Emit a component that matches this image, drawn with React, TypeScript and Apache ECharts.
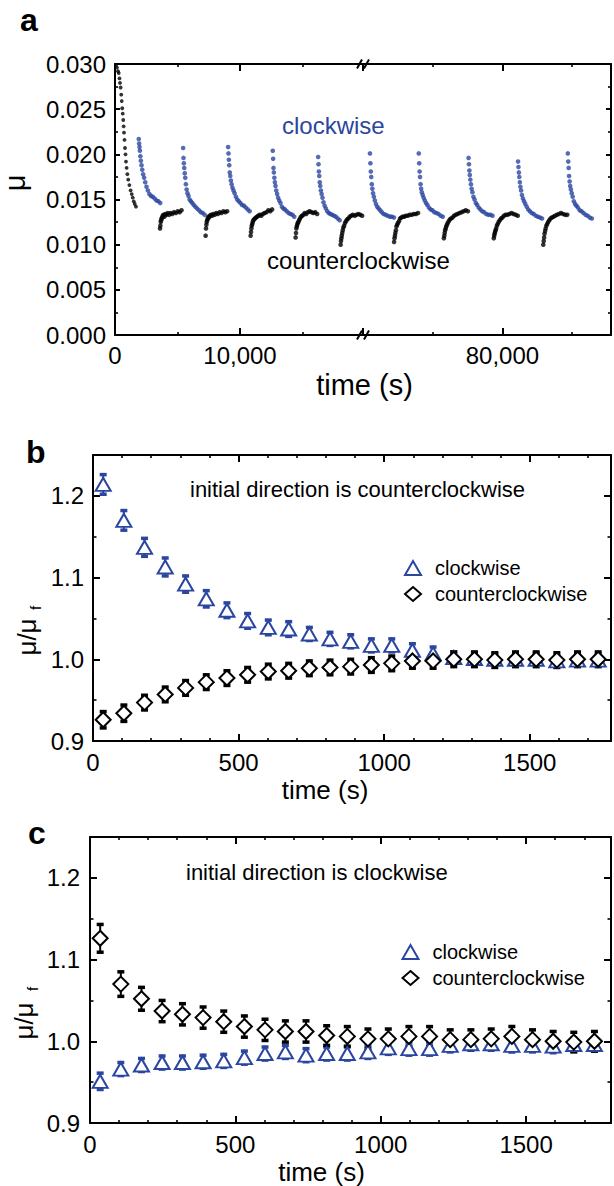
import React, { useEffect, useRef } from "react";
import * as echarts from "echarts";

const BLUE = "#2a46a0";
const BLACK = "#000000";
const FONT = "'Liberation Sans', Arial, Helvetica, sans-serif";

// ---------- panel a : friction coefficient vs time ----------
// time offsets (s) inside each half-cycle
const A_OFFSETS = [0, 30, 60, 90, 130, 170, 220, 280, 350, 430, 520, 620, 730, 850, 980, 1120, 1270, 1420, 1570, 1720];

// first (counterclockwise) run-in segment, [time, mu]
const A_CCW_INITIAL = [
  [90, 0.0299], [160, 0.0296], [240, 0.0292], [300, 0.029], [360, 0.0284], [400, 0.0279], [450, 0.0274],
  [500, 0.0266], [540, 0.0259], [580, 0.0251], [620, 0.0245], [660, 0.0238], [690, 0.0231], [720, 0.0224],
  [760, 0.0216], [800, 0.0207], [840, 0.02], [880, 0.0192], [930, 0.0185], [990, 0.0178], [1060, 0.0172],
  [1150, 0.0166], [1250, 0.016], [1340, 0.0156], [1420, 0.0152], [1500, 0.0148], [1580, 0.0145], [1680, 0.0142],
];

// clockwise segments, left part of broken axis
const A_CW_LEFT_STARTS = [1900, 5450, 9050, 12620, 16250];
const A_CW_LEFT = [
  [0.0217, 0.0212, 0.0208, 0.0204, 0.0198, 0.0193, 0.0188, 0.0183, 0.0178, 0.0174, 0.0169, 0.0164, 0.016, 0.0156, 0.0154, 0.0153, 0.0151, 0.0149, 0.0148, 0.0146],
  [0.0207, 0.0196, 0.019, 0.0185, 0.0179, 0.0174, 0.0167, 0.0161, 0.0157, 0.0154, 0.015, 0.0148, 0.0146, 0.0144, 0.0142, 0.014, 0.0138, 0.0136, 0.0135, 0.0133],
  [0.0208, 0.0201, 0.0194, 0.0188, 0.018, 0.0176, 0.0171, 0.0167, 0.0163, 0.016, 0.0157, 0.0153, 0.015, 0.0148, 0.0146, 0.0144, 0.0143, 0.0141, 0.0139, 0.0137],
  [0.0204, 0.0195, 0.0185, 0.018, 0.0174, 0.0169, 0.0165, 0.016, 0.0156, 0.0152, 0.0149, 0.0146, 0.0142, 0.014, 0.0139, 0.0137, 0.0135, 0.0134, 0.0133, 0.0131],
  [0.0197, 0.0189, 0.0181, 0.0176, 0.0169, 0.0165, 0.016, 0.0156, 0.0152, 0.0147, 0.0143, 0.014, 0.0137, 0.0135, 0.0134, 0.0133, 0.0132, 0.0131, 0.0129, 0.0127],
];
// clockwise segments, right part of broken axis
const A_CW_RIGHT_STARTS = [70500, 74000, 77570, 81120, 84690];
const A_CW_RIGHT = [
  [0.0201, 0.019, 0.0181, 0.0175, 0.0167, 0.0162, 0.0157, 0.0153, 0.0149, 0.0145, 0.0142, 0.014, 0.0138, 0.0136, 0.0134, 0.0133, 0.0132, 0.0131, 0.0131, 0.013],
  [0.0201, 0.019, 0.0181, 0.0175, 0.0167, 0.0162, 0.0158, 0.0155, 0.0152, 0.0149, 0.0146, 0.0144, 0.0141, 0.0139, 0.0138, 0.0136, 0.0135, 0.0134, 0.0132, 0.0131],
  [0.0196, 0.0189, 0.0182, 0.0177, 0.0172, 0.0167, 0.0162, 0.0158, 0.0153, 0.015, 0.0146, 0.0144, 0.0141, 0.0139, 0.0137, 0.0136, 0.0134, 0.0133, 0.0133, 0.0132],
  [0.0192, 0.0186, 0.018, 0.0175, 0.0169, 0.0164, 0.016, 0.0155, 0.0151, 0.0148, 0.0145, 0.0142, 0.0139, 0.0137, 0.0135, 0.0134, 0.0132, 0.0131, 0.013, 0.0129],
  [0.0201, 0.0192, 0.0185, 0.0176, 0.017, 0.0165, 0.0161, 0.0157, 0.0153, 0.0148, 0.0145, 0.0143, 0.0141, 0.0138, 0.0137, 0.0135, 0.0133, 0.0132, 0.013, 0.0129],
];
// counterclockwise segments
const A_CCW_LEFT_STARTS = [3600, 7250, 10850, 14450, 18050];
const A_CCW_LEFT = [
  [0.0118, 0.0121, 0.0125, 0.0127, 0.0129, 0.013, 0.0132, 0.0133, 0.0131, 0.0134, 0.0133, 0.0135, 0.0133, 0.0135, 0.0134, 0.0136, 0.0135, 0.0137, 0.0136, 0.0138],
  [0.011, 0.0118, 0.0122, 0.0125, 0.0127, 0.0129, 0.0131, 0.013, 0.0132, 0.0133, 0.0132, 0.0134, 0.0133, 0.0135, 0.0134, 0.0136, 0.0135, 0.0137, 0.0136, 0.0137],
  [0.011, 0.0114, 0.0118, 0.0121, 0.0123, 0.0125, 0.0127, 0.0128, 0.0129, 0.013, 0.0131, 0.0132, 0.0133, 0.0132, 0.0134, 0.0135, 0.0136, 0.0138, 0.0137, 0.0139],
  [0.0108, 0.0113, 0.0118, 0.012, 0.0122, 0.0124, 0.0125, 0.0127, 0.0129, 0.0131, 0.0132, 0.0133, 0.0135, 0.0134, 0.0136, 0.0137, 0.0136, 0.0135, 0.0136, 0.0134],
  [0.01, 0.0104, 0.0107, 0.011, 0.0113, 0.0116, 0.0119, 0.0121, 0.0124, 0.0126, 0.0128, 0.0129, 0.0131, 0.0132, 0.0133, 0.0132, 0.0133, 0.0134, 0.0133, 0.0132],
];
const A_CCW_RIGHT_STARTS = [72230, 75800, 79380, 82930];
const A_CCW_RIGHT = [
  [0.0103, 0.0107, 0.011, 0.0113, 0.0116, 0.012, 0.0122, 0.0124, 0.0126, 0.0129, 0.013, 0.0131, 0.0131, 0.0132, 0.0132, 0.0133, 0.0133, 0.0134, 0.0134, 0.0135],
  [0.0107, 0.011, 0.0113, 0.0116, 0.0118, 0.012, 0.0122, 0.0124, 0.0126, 0.0128, 0.0129, 0.013, 0.0132, 0.0133, 0.0134, 0.0135, 0.0136, 0.0137, 0.0138, 0.0137],
  [0.0107, 0.011, 0.0112, 0.0114, 0.0116, 0.0118, 0.0121, 0.0123, 0.0125, 0.0127, 0.0129, 0.013, 0.0132, 0.0133, 0.0133, 0.0134, 0.0135, 0.0134, 0.0133, 0.0132],
  [0.01, 0.0104, 0.0108, 0.0112, 0.0115, 0.0118, 0.0121, 0.0123, 0.0125, 0.0127, 0.0129, 0.013, 0.0131, 0.0132, 0.0133, 0.0134, 0.0135, 0.0134, 0.0133, 0.0133],
];
const A_LEFT_LABELS = [0, 10000];
const A_RIGHT_LABELS = [80000];

// ---------- panels b and c : normalised friction ----------
const TIMES = [35, 106, 177, 248, 318, 389, 460, 531, 602, 672, 743, 814, 885, 956, 1026, 1097, 1168, 1239, 1310, 1380, 1451, 1522, 1593, 1664, 1735];

const B_CW = [1.214, 1.17, 1.137, 1.113, 1.092, 1.074, 1.06, 1.047, 1.039, 1.037, 1.031, 1.025, 1.022, 1.017, 1.017, 1.011, 1.007, 1.002, 1.001, 1.0, 1.0, 1.0, 0.998, 0.999, 0.999];
const B_CW_ERR = [0.012, 0.012, 0.011, 0.011, 0.01, 0.01, 0.009, 0.009, 0.009, 0.009, 0.008, 0.008, 0.008, 0.008, 0.008, 0.008, 0.008, 0.007, 0.007, 0.007, 0.007, 0.007, 0.007, 0.007, 0.007];
const B_CCW = [0.926, 0.934, 0.947, 0.957, 0.965, 0.972, 0.977, 0.981, 0.985, 0.986, 0.989, 0.99, 0.991, 0.993, 0.995, 0.998, 0.998, 1.0, 1.0, 0.999, 1.0, 1.0, 0.999, 1.0, 1.0];
const B_CCW_ERR = [0.01, 0.01, 0.009, 0.009, 0.009, 0.009, 0.009, 0.009, 0.009, 0.009, 0.009, 0.009, 0.009, 0.009, 0.009, 0.009, 0.009, 0.009, 0.009, 0.009, 0.009, 0.009, 0.009, 0.009, 0.009];

const C_CW = [0.951, 0.966, 0.971, 0.974, 0.974, 0.975, 0.976, 0.98, 0.985, 0.987, 0.983, 0.985, 0.985, 0.987, 0.992, 0.991, 0.991, 0.995, 0.997, 0.997, 0.995, 0.995, 0.994, 0.996, 0.996];
const C_CW_ERR = [0.01, 0.008, 0.008, 0.008, 0.008, 0.008, 0.008, 0.008, 0.008, 0.008, 0.008, 0.008, 0.008, 0.008, 0.008, 0.008, 0.008, 0.008, 0.008, 0.008, 0.008, 0.008, 0.008, 0.008, 0.008];
const C_CCW = [1.126, 1.07, 1.052, 1.037, 1.033, 1.029, 1.024, 1.018, 1.014, 1.012, 1.012, 1.007, 1.006, 1.003, 1.003, 1.006, 1.006, 1.002, 1.002, 1.003, 1.006, 1.002, 1.0, 0.999, 1.0];
const C_CCW_ERR = [0.017, 0.015, 0.014, 0.013, 0.013, 0.013, 0.013, 0.013, 0.013, 0.013, 0.013, 0.012, 0.012, 0.012, 0.012, 0.012, 0.012, 0.012, 0.012, 0.012, 0.012, 0.012, 0.012, 0.012, 0.012];

const LEGEND_NAMES = ["clockwise", "counterclockwise"];

// ---------- layout ----------
const GA = { left0: 115, brk: 363, right: 612, top: 64, bottom: 335 };
const GB = { left: 93, top: 455, width: 519, height: 286 };
const GC = { left: 90, top: 837, width: 522, height: 286 };

function segPoints(starts: number[], segs: number[][]) {
  const pts: number[][] = [];
  starts.forEach((s, k) => segs[k].forEach((v, i) => pts.push([s + A_OFFSETS[i], v])));
  return pts;
}

const tickFont = { fontSize: 24, fontFamily: FONT, color: "#000" };

function mkX(grid: number, position: string, min: number, max: number, interval: number, len: number, major: boolean, fmt?: (v: number) => string, margin = 8) {
  return {
    type: "value", gridIndex: grid, position, min, max, interval,
    axisLine: { show: major, onZero: false, lineStyle: { color: "#000", width: 2 } },
    axisTick: { show: true, inside: true, length: len, lineStyle: { color: "#000", width: major ? 2 : 1.6 } },
    axisLabel: fmt ? { show: true, margin, ...tickFont, formatter: fmt, showMinLabel: true, showMaxLabel: true } : { show: false },
    splitLine: { show: false },
  };
}
function mkY(grid: number, position: string, min: number, max: number, interval: number, len: number, major: boolean, fmt?: (v: number) => string, minor?: number, margin = 9) {
  return {
    type: "value", gridIndex: grid, position, min, max, interval,
    axisLine: { show: major, onZero: false, lineStyle: { color: "#000", width: 2 } },
    axisTick: { show: true, inside: true, length: len, lineStyle: { color: "#000", width: major ? 2 : 1.6 } },
    minorTick: minor ? { show: true, splitNumber: minor, length: 3, lineStyle: { color: "#000", width: 1.6 } } : { show: false },
    axisLabel: fmt ? { show: true, margin, ...tickFont, formatter: fmt } : { show: false },
    splitLine: { show: false },
  };
}

const tenthLabel = (v: number) => {
  const r = Math.round(v * 10);
  return Math.abs(v * 10 - r) < 1e-6 ? (r / 10).toFixed(1) : "";
};
const fiveHundredLabel = (v: number) => (Math.abs(v % 500) < 1e-6 ? String(v) : "");

function errBar(color: string) {
  return (params: any, api: any) => {
    const lo = api.coord([api.value(0), api.value(1)]);
    const hi = api.coord([api.value(0), api.value(2)]);
    const x = lo[0];
    return {
      type: "group",
      children: [
        { type: "line", shape: { x1: x, y1: lo[1], x2: x, y2: hi[1] }, style: { stroke: color, lineWidth: 2 } },
        { type: "rect", shape: { x: x - 3.5, y: hi[1] - 1.75, width: 7, height: 3.5 }, style: { fill: color } },
        { type: "rect", shape: { x: x - 3.5, y: lo[1] - 1.75, width: 7, height: 3.5 }, style: { fill: color } },
      ],
    };
  };
}

function panelSeries(xi: number, yi: number, cw: number[], cwErr: number[], ccw: number[], ccwErr: number[]) {
  return [
    {
      name: "cw-err", type: "custom", xAxisIndex: xi, yAxisIndex: yi, renderItem: errBar(BLUE), encode: { x: 0, y: [1, 2] },
      data: TIMES.map((t, i) => [t, cw[i] - cwErr[i], cw[i] + cwErr[i]]),
    },
    {
      name: "clockwise", type: "scatter", xAxisIndex: xi, yAxisIndex: yi, symbol: "triangle", symbolSize: [15, 13],
      itemStyle: { color: "#ffffff", borderColor: BLUE, borderWidth: 2, opacity: 1 },
      data: TIMES.map((t, i) => [t, cw[i]]),
    },
    {
      name: "ccw-err", type: "custom", xAxisIndex: xi, yAxisIndex: yi, renderItem: errBar(BLACK), encode: { x: 0, y: [1, 2] },
      data: TIMES.map((t, i) => [t, ccw[i] - ccwErr[i], ccw[i] + ccwErr[i]]),
    },
    {
      name: "counterclockwise", type: "scatter", xAxisIndex: xi, yAxisIndex: yi, symbol: "diamond", symbolSize: [15, 15],
      itemStyle: { color: "#ffffff", borderColor: BLACK, borderWidth: 2, opacity: 1 },
      data: TIMES.map((t, i) => [t, ccw[i]]),
    },
  ];
}

function txt(text: string, x: number, y: number, size: number, extra: any = {}) {
  return {
    type: "text", x, y, z: 50,
    style: { text, fontSize: size, fontFamily: FONT, fill: "#000", align: "left", verticalAlign: "middle", ...extra },
  };
}

function buildOption() {
  const aMaxL = 19840;
  const aMinR = 70000;
  const aMaxR = 87786;
  const bMax = 1779;
  const cMax = 1792;
  const aLabelL = (v: number) => (A_LEFT_LABELS.includes(v) ? v.toLocaleString("en-US") : "");
  const aLabelR = (v: number) => (A_RIGHT_LABELS.includes(v) ? v.toLocaleString("en-US") : "");

  const xAxis = [
    mkX(0, "bottom", 0, aMaxL, 10000, 7, true, aLabelL),
    mkX(0, "bottom", 0, aMaxL, 5000, 3, false),
    mkX(0, "top", 0, aMaxL, 10000, 7, true),
    mkX(0, "top", 0, aMaxL, 5000, 3, false),
    mkX(1, "bottom", aMinR, aMaxR, 10000, 7, true, aLabelR),
    mkX(1, "bottom", aMinR, aMaxR, 5000, 3, false),
    mkX(1, "top", aMinR, aMaxR, 10000, 7, true),
    mkX(1, "top", aMinR, aMaxR, 5000, 3, false),
    mkX(2, "bottom", 0, bMax, 500, 7, true, fiveHundredLabel, 9),
    mkX(2, "bottom", 0, bMax, 100, 3, false),
    mkX(2, "top", 0, bMax, 500, 7, true),
    mkX(2, "top", 0, bMax, 100, 3, false),
    mkX(3, "bottom", 0, cMax, 500, 7, true, fiveHundredLabel, 9),
    mkX(3, "bottom", 0, cMax, 100, 3, false),
    mkX(3, "top", 0, cMax, 500, 7, true),
    mkX(3, "top", 0, cMax, 100, 3, false),
  ];
  const yAxis = [
    mkY(0, "left", 0, 0.03, 0.005, 5, true, (v: number) => v.toFixed(3), 2),
    mkY(1, "right", 0, 0.03, 0.005, 5, true, undefined, 2),
    mkY(2, "left", 0.9, 1.25, 0.1, 7, true, tenthLabel, undefined, 9),
    mkY(2, "left", 0.9, 1.25, 0.05, 3.5, false),
    mkY(2, "right", 0.9, 1.25, 0.1, 7, true),
    mkY(2, "right", 0.9, 1.25, 0.05, 3.5, false),
    mkY(3, "left", 0.9, 1.25, 0.1, 7, true, tenthLabel, undefined, 10),
    mkY(3, "left", 0.9, 1.25, 0.05, 3.5, false),
    mkY(3, "right", 0.9, 1.25, 0.1, 7, true),
    mkY(3, "right", 0.9, 1.25, 0.05, 3.5, false),
  ];

  const dot = { type: "scatter", symbol: "circle", symbolSize: 4.6 };
  const series: any[] = [
    { ...dot, name: "a-ccw0", symbolSize: 3.8, xAxisIndex: 0, yAxisIndex: 0, itemStyle: { color: BLACK }, data: A_CCW_INITIAL },
    { ...dot, name: "a-cw-l", xAxisIndex: 0, yAxisIndex: 0, itemStyle: { color: BLUE }, data: segPoints(A_CW_LEFT_STARTS, A_CW_LEFT) },
    { ...dot, name: "a-ccw-l", xAxisIndex: 0, yAxisIndex: 0, itemStyle: { color: BLACK }, data: segPoints(A_CCW_LEFT_STARTS, A_CCW_LEFT) },
    { ...dot, name: "a-cw-r", xAxisIndex: 4, yAxisIndex: 1, itemStyle: { color: BLUE }, data: segPoints(A_CW_RIGHT_STARTS, A_CW_RIGHT) },
    { ...dot, name: "a-ccw-r", xAxisIndex: 4, yAxisIndex: 1, itemStyle: { color: BLACK }, data: segPoints(A_CCW_RIGHT_STARTS, A_CCW_RIGHT) },
    ...panelSeries(8, 2, B_CW, B_CW_ERR, B_CCW, B_CCW_ERR),
    ...panelSeries(12, 6, C_CW, C_CW_ERR, C_CCW, C_CCW_ERR),
  ];

  const legendBase = {
    data: LEGEND_NAMES, orient: "vertical", itemWidth: 16, itemHeight: 14, itemGap: 6, selectedMode: false,
    textStyle: { fontSize: 20, fontFamily: FONT, color: "#000", padding: [0, 0, 0, 9] },
  };

  const brk = (y: number, inward: number) => ({
    type: "group", z: 100,
    children: [
      { type: "rect", shape: { x: GA.brk - 3.5, y: inward > 0 ? y - 2 : y - 8, width: 7, height: 10 }, style: { fill: "#fff" } },
      { type: "line", shape: { x1: GA.brk - 6, y1: y + 4.5, x2: GA.brk - 1, y2: y - 4.5 }, style: { stroke: "#000", lineWidth: 2 } },
      { type: "line", shape: { x1: GA.brk + 1, y1: y + 4.5, x2: GA.brk + 6, y2: y - 4.5 }, style: { stroke: "#000", lineWidth: 2 } },
    ],
  });

  const graphic = [
    txt("a", 20, 19.5, 32, { fontWeight: "bold" }),
    txt("b", 26, 451.5, 32, { fontWeight: "bold" }),
    txt("c", 28, 832.5, 32, { fontWeight: "bold" }),
    txt("clockwise", 282, 125, 24, { fill: BLUE }),
    txt("counterclockwise", 267, 260, 24),
    txt("initial direction is counterclockwise", 190, 489, 22),
    txt("initial direction is clockwise", 186, 872, 22),
    txt("time (s)", 364.5, 385, 29, { align: "center" }),
    txt("time (s)", 325, 790, 26, { align: "center" }),
    txt("time (s)", 321.5, 1172, 26, { align: "center" }),
    { ...txt("μ", 15, 183, 29, { align: "center" }), rotation: Math.PI / 2 },
    {
      type: "group", x: 27, y: 637, rotation: Math.PI / 2,
      children: [txt("μ/μ", 0, 0, 26, { align: "center" }), txt("f", 29, 8, 15, { align: "center" })],
    },
    {
      type: "group", x: 24, y: 1021, rotation: Math.PI / 2,
      children: [txt("μ/μ", 0, 0, 26, { align: "center" }), txt("f", 32, 8, 15, { align: "center" })],
    },
    brk(GA.top, 1),
    brk(GA.bottom, -1),
  ];

  return {
    animation: false,
    backgroundColor: "#ffffff",
    textStyle: { fontFamily: FONT },
    grid: [
      { left: GA.left0, top: GA.top, width: GA.brk - GA.left0, height: GA.bottom - GA.top },
      { left: GA.brk, top: GA.top, width: GA.right - GA.brk, height: GA.bottom - GA.top },
      { left: GB.left, top: GB.top, width: GB.width, height: GB.height },
      { left: GC.left, top: GC.top, width: GC.width, height: GC.height },
    ],
    xAxis,
    yAxis,
    legend: [
      { ...legendBase, left: 399, top: 553 },
      { ...legendBase, left: 396.5, top: 937 },
    ],
    series,
    graphic,
  };
}

export default function App() {
  const ref = useRef<HTMLDivElement>(null);
  useEffect(() => {
    document.body.style.margin = "0";
    const chart = echarts.init(ref.current as HTMLDivElement, null, { renderer: "svg" });
    chart.setOption(buildOption() as any);
    return () => chart.dispose();
  }, []);
  return <div ref={ref} style={{ width: 614, height: 1186 }} />;
}
